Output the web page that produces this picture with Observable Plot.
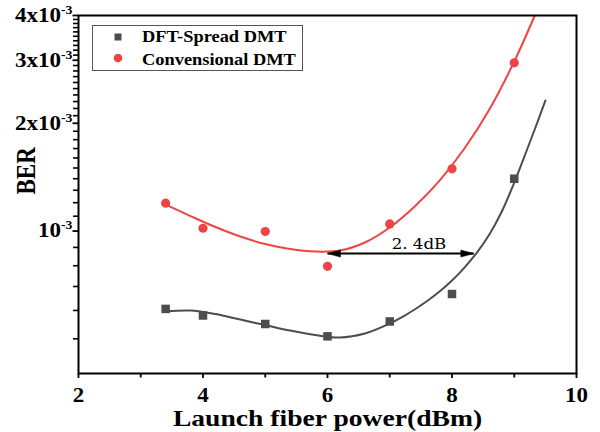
<!DOCTYPE html>
<html>
<head>
<meta charset="utf-8">
<script src="https://cdn.jsdelivr.net/npm/d3@7"></script>
<script src="https://cdn.jsdelivr.net/npm/@observablehq/plot@0.6"></script>
<style>
  html, body { margin: 0; padding: 0; background: #fff; }
  #wrap { position: relative; width: 600px; height: 432px; }
  #legend { position: absolute; left: 92px; top: 25px; }
</style>
</head>
<body>
<div id="wrap">
  <div id="chart"></div>
  <svg id="legend" width="211" height="46"></svg>
</div>
<script>
// Launch power (dBm) of the measured points
const power = [3.4, 4, 5, 6, 7, 8, 9];
// Measured BER
const berDftSpread = [6.06e-4, 5.81e-4, 5.50e-4, 5.08e-4, 5.59e-4, 6.67e-4, 1.40e-3];
const berConventional = [1.196e-3, 1.018e-3, 0.997e-3, 0.797e-3, 1.047e-3, 1.492e-3, 2.95e-3];

// Fitted trend curves
const fitDftPower = [3.4, 3.8, 4.2, 4.6, 5.0, 5.4, 5.8, 6.2, 6.6, 7.0, 7.2, 7.4, 7.6, 7.8, 8.0, 8.2, 8.4, 8.6, 8.8, 9.0, 9.2, 9.4, 9.5];
const fitDftBer = [5.957e-4, 5.995e-4, 5.862e-4, 5.659e-4, 5.462e-4, 5.272e-4, 5.122e-4, 5.040e-4, 5.172e-4,
  5.515e-4, 5.751e-4, 6.036e-4, 6.375e-4, 6.777e-4, 7.273e-4, 7.907e-4, 8.708e-4, 9.777e-4, 1.1336e-3,
  1.3661e-3, 1.6787e-3, 2.0751e-3, 2.3149e-3];
const fitConvPower = [3.4, 3.8, 4.2, 4.6, 5.0, 5.4, 5.8, 6.2, 6.6, 7.0, 7.4, 7.8, 8.2, 8.6, 9.0, 9.33];
const fitConvBer = [1.1858e-3, 1.1013e-3, 1.0261e-3, 0.9652e-3, 0.9198e-3, 0.8907e-3, 0.8765e-3, 0.8821e-3,
  0.9288e-3, 1.0228e-3, 1.1707e-3, 1.3838e-3, 1.7000e-3, 2.1847e-3, 2.9749e-3, 4.0e-3];

// Power-gap annotation between the two curves
const gapPower = [6.0, 8.35];
const gapBer = 8.65e-4;
const gapLabel = "2. 4dB";
const gapLabelPower = 7.47;

// Axis ticks
const xTicks = [2, 4, 6, 8, 10];
const xMinorTicks = [3, 5, 7, 9];
const yTicks = [1e-3, 2e-3, 3e-3, 4e-3];
const yTickLabels = ["10|-3", "2x10|-3", "3x10|-3", "4x10|-3"];
const yMinorTicks = [5e-4, 6e-4, 7e-4, 8e-4, 9e-4,
  1.1e-3, 1.2e-3, 1.3e-3, 1.4e-3, 1.5e-3, 1.6e-3, 1.7e-3, 1.8e-3, 1.9e-3,
  2.1e-3, 2.2e-3, 2.3e-3, 2.4e-3, 2.5e-3, 2.6e-3, 2.7e-3, 2.8e-3, 2.9e-3,
  3.1e-3, 3.2e-3, 3.3e-3, 3.4e-3, 3.5e-3, 3.6e-3, 3.7e-3, 3.8e-3, 3.9e-3];

const seriesNames = ["DFT-Spread DMT", "Convensional DMT"];
const xLabel = "Launch fiber power(dBm)";
const yLabel = "BER";

const RED = "#f04343";
const GREY = "#4d4d4d";
const STRETCH = 1.15;
const FONT = "'Liberation Serif', 'Times New Roman', serif";

const measDft = power.map((p, i) => ({x: p, y: berDftSpread[i]}));
const measConv = power.map((p, i) => ({x: p, y: berConventional[i]}));
const fitDft = fitDftPower.map((p, i) => ({x: p, y: fitDftBer[i]}));
const fitConv = fitConvPower.map((p, i) => ({x: p, y: fitConvBer[i]}));

// narrow filled arrowhead with its tip at the origin, pointing right
const arrowHead = {
  draw(ctx) {
    ctx.moveTo(0, 0);
    ctx.lineTo(-13, -3.5);
    ctx.lineTo(-13, 3.5);
    ctx.closePath();
  }
};

const yLabelOf = (d) => yTickLabels[yTicks.indexOf(d)];

const chart = Plot.plot({
  width: 600,
  height: 432,
  marginLeft: 78,
  marginRight: 24,
  marginTop: 15,
  marginBottom: 59,
  style: {fontFamily: FONT, background: "#fff", overflow: "visible"},
  x: {domain: [2, 10]},
  y: {type: "log", domain: [4e-4, 4e-3]},
  marks: [
    Plot.axisX({ticks: xTicks, tickSize: 5, tickPadding: 9, fontSize: 20, fontWeight: "bold",
      stroke: "#000", strokeWidth: 1.8, label: null, tickFormat: (d) => String(d)}),
    Plot.axisX({ticks: xMinorTicks, tickSize: 4.5, stroke: "#000", strokeWidth: 1.8, label: null, tickFormat: () => ""}),
    Plot.axisY({ticks: yTicks, tickSize: 5.5, tickPadding: 0.5, fontSize: 20, fontWeight: "bold",
      stroke: "#000", strokeWidth: 1.8, label: null, tickFormat: yLabelOf}),
    Plot.axisY({ticks: yMinorTicks, tickSize: 5, stroke: "#000", strokeWidth: 1.6, label: null, tickFormat: () => ""}),
    Plot.line(fitConv, {x: "x", y: "y", stroke: RED, strokeWidth: 2, curve: "catmull-rom", clip: true}),
    Plot.line(fitDft, {x: "x", y: "y", stroke: GREY, strokeWidth: 2, curve: "catmull-rom", clip: true}),
    Plot.dot(measDft, {x: "x", y: "y", symbol: "square", r: 4.8, fill: GREY}),
    Plot.dot(measConv, {x: "x", y: "y", symbol: "circle", r: 4.6, fill: RED}),
    Plot.link([gapBer], {x1: gapPower[0], x2: gapPower[1], y1: (d) => d, y2: (d) => d,
      stroke: "#000", strokeWidth: 2}),
    Plot.dot([gapBer], {x: gapPower[1], y: (d) => d, symbol: arrowHead, fill: "#000", stroke: "#000", strokeWidth: 0.5}),
    Plot.dot([gapBer], {x: gapPower[0], y: (d) => d, symbol: arrowHead, rotate: 180, fill: "#000", stroke: "#000", strokeWidth: 0.5}),
    Plot.text([gapBer], {x: gapLabelPower, y: (d) => d, text: () => gapLabel, dy: -5, lineAnchor: "bottom",
      fontFamily: "'DejaVu Serif', serif", fontSize: 14.5, fill: "#000"}),
    Plot.text([yLabel], {frameAnchor: "left", text: (d) => d, rotate: -90, dx: -51,
      fontSize: 23, fontWeight: "bold", fill: "#000"}),
    Plot.text([xLabel], {frameAnchor: "bottom", text: (d) => d, dy: 45, lineAnchor: "middle",
      fontSize: 24, fontWeight: "bold", fill: "#000"}),
    Plot.frame({stroke: "#000", strokeWidth: 2})
  ]
});

// superscript exponents in the y tick labels
chart.querySelectorAll("text").forEach((t) => {
  const s = t.textContent;
  if (!s.includes("|")) return;
  const [base, exp] = s.split("|");
  t.textContent = base;
  const ts = document.createElementNS("http://www.w3.org/2000/svg", "tspan");
  ts.setAttribute("dy", "-8");
  ts.setAttribute("font-size", "12");
  ts.textContent = exp;
  t.appendChild(ts);
});

// widen the glyphs slightly along the horizontal, keeping each anchor in place
function widen(t) {
  const tr = t.getAttribute("transform") || "";
  const rot = tr.includes("rotate");
  const attr = rot ? "y" : "x";
  const v = t.getAttribute(attr);
  if (v != null) {
    const m = String(v).match(/^(-?[\d.]+)(.*)$/);
    if (m) t.setAttribute(attr, (+m[1] / STRETCH) + m[2]);
  }
  t.setAttribute("transform", `${tr} ${rot ? `scale(1,${STRETCH})` : `scale(${STRETCH},1)`}`);
}
chart.querySelectorAll("text").forEach(widen);

document.getElementById("chart").appendChild(chart);

// legend
const legend = d3.select("#legend");
legend.append("rect").attr("x", 0.5).attr("y", 0.5).attr("width", 210).attr("height", 45)
  .attr("fill", "#fff").attr("stroke", "#555").attr("stroke-width", 1);
legend.append("rect").attr("x", 22.5).attr("y", 8.5).attr("width", 7).attr("height", 7).attr("fill", GREY);
legend.append("circle").attr("cx", 26).attr("cy", 33).attr("r", 4.3).attr("fill", RED);
seriesNames.forEach((name, i) => {
  legend.append("text")
    .attr("transform", `translate(50,${i === 0 ? 17 : 39.5}) scale(${STRETCH},1)`)
    .attr("font-family", FONT).attr("font-weight", "bold").attr("font-size", 16)
    .attr("fill", "#000").text(name);
});
</script>
</body>
</html>
